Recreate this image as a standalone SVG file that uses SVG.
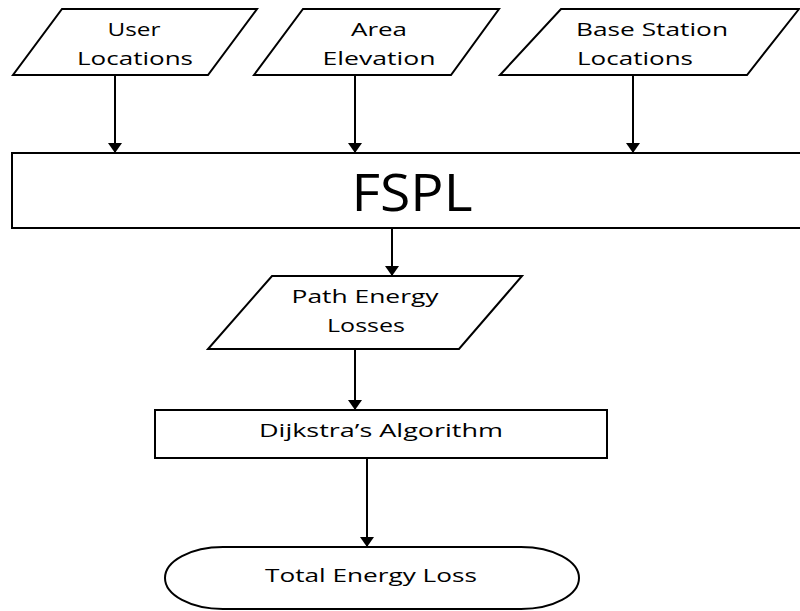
<svg xmlns="http://www.w3.org/2000/svg" width="800" height="611" viewBox="0 0 800 611">
<style>
.shape{fill:#ffffff;stroke:#000000;stroke-width:2}
.t{font-family:"Open Sans","Liberation Sans",sans-serif;font-size:19px;fill:#000000}
.big{font-family:"Open Sans","Liberation Sans",sans-serif;font-size:52px;fill:#000000}
.conn{stroke:#000000;stroke-width:2;fill:none;marker-end:url(#arrow)}
</style>
<defs>
<marker id="arrow" viewBox="0 0 10 14" refX="10" refY="7" markerWidth="10" markerHeight="14" markerUnits="userSpaceOnUse" orient="auto">
<path d="M0,0 L10,7 L0,14 z" fill="#000000"/>
</marker>
</defs>
<rect width="800" height="611" fill="#ffffff"/>
<g id="user-locations">
<polygon class="shape" points="62,9 257,9 208,75 13,75"/>
<text class="t" x="134" y="36" text-anchor="middle" textLength="53" lengthAdjust="spacingAndGlyphs">User</text>
<text class="t" x="135" y="65" text-anchor="middle" textLength="116" lengthAdjust="spacingAndGlyphs">Locations</text>
</g>
<g id="area-elevation">
<polygon class="shape" points="303,9 499,9 451,75 254,75"/>
<text class="t" x="379" y="36" text-anchor="middle" textLength="56" lengthAdjust="spacingAndGlyphs">Area</text>
<text class="t" x="379" y="65" text-anchor="middle" textLength="113" lengthAdjust="spacingAndGlyphs">Elevation</text>
</g>
<g id="base-station-locations">
<polygon class="shape" points="561,9 799,9 747,75 500,75"/>
<text class="t" x="576" y="36" textLength="152" lengthAdjust="spacingAndGlyphs">Base Station</text>
<text class="t" x="577" y="65" textLength="116" lengthAdjust="spacingAndGlyphs">Locations</text>
</g>
<g id="fspl">
<rect class="shape" x="12" y="153" width="792" height="75"/>
<text class="big" x="412" y="211" text-anchor="middle" textLength="121" lengthAdjust="spacingAndGlyphs">FSPL</text>
</g>
<g id="path-energy-losses">
<polygon class="shape" points="272,276 522,276 459,349 208,349"/>
<text class="t" x="365" y="303" text-anchor="middle" textLength="147" lengthAdjust="spacingAndGlyphs">Path Energy</text>
<text class="t" x="366" y="332" text-anchor="middle" textLength="78" lengthAdjust="spacingAndGlyphs">Losses</text>
</g>
<g id="dijkstra">
<rect class="shape" x="155" y="410" width="452" height="48"/>
<text class="t" x="381" y="437" text-anchor="middle" textLength="244" lengthAdjust="spacingAndGlyphs">Dijkstra’s Algorithm</text>
</g>
<g id="total-energy-loss">
<path class="shape" d="M223,547 H521 A58,31 0 0 1 521,609 H223 A58,31 0 0 1 223,547 Z"/>
<text class="t" x="371" y="582" text-anchor="middle" textLength="212" lengthAdjust="spacingAndGlyphs">Total Energy Loss</text>
</g>
<g id="connectors">
<line class="conn" x1="115" y1="75" x2="115" y2="153"/>
<line class="conn" x1="355" y1="75" x2="355" y2="153"/>
<line class="conn" x1="633" y1="75" x2="633" y2="153"/>
<line class="conn" x1="392" y1="228" x2="392" y2="276"/>
<line class="conn" x1="355" y1="349" x2="355" y2="410"/>
<line class="conn" x1="367" y1="458" x2="367" y2="547"/>
</g>
</svg>
